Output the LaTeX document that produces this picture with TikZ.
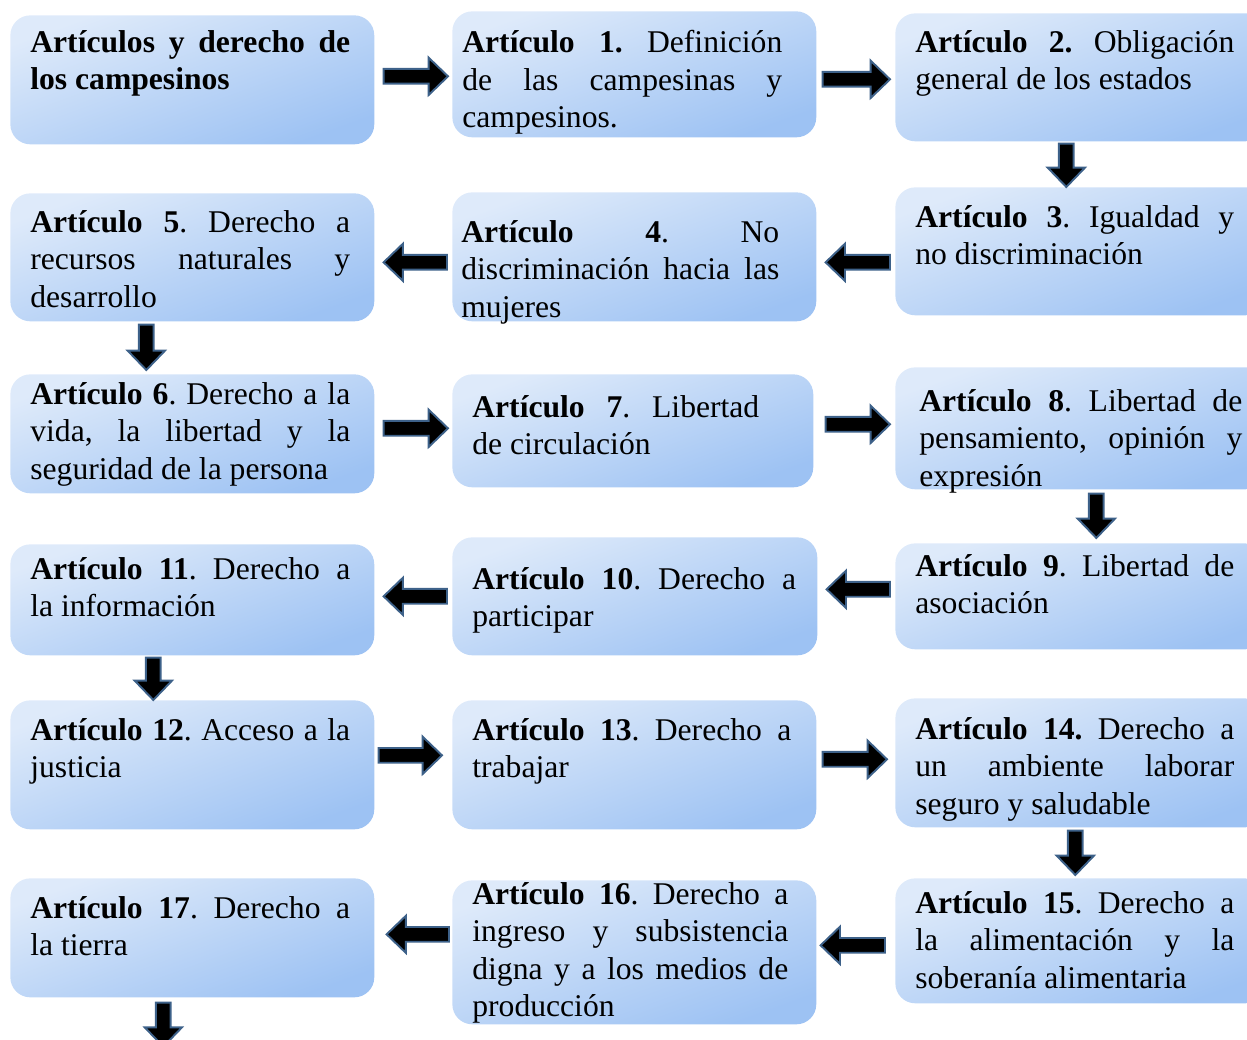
\documentclass[tikz,border=0pt]{standalone}
\usepackage{fontspec}
\setmainfont{Liberation Serif}
\usepackage{tikz}
\usetikzlibrary{calc}
\definecolor{boxlight}{HTML}{DEEAFA}
\definecolor{boxdark}{HTML}{9DC2F3}
\definecolor{arrowblue}{HTML}{3D6189}
\hyphenpenalty=10000
\exhyphenpenalty=10000
\tolerance=10000
\frenchspacing

\begin{document}
\begin{tikzpicture}[
	x=0.02cm, y=-0.02cm
	,box/.style={anchor=north west, inner sep=0, rounded corners=0.4cm, minimum width=7.28cm, top color=boxlight, bottom color=boxdark, shading angle=20}
	,wide/.style={minimum width=7.4cm}
	,txt/.style={anchor=north west, inner sep=0, align=justify, font=\fontsize{18}{21.3}\selectfont}
	,barrow/.style 2 args={draw=arrowblue, fill=black, line width=1.1pt, line join=miter,
		to path={
			($(\tikztostart)!#1!(\tikztotarget)$) coordinate (bs)
			($(\tikztotarget)!#2!(\tikztostart)$) coordinate (bt)
			($(bt)!11pt!(bs)$) coordinate (bh)
			($(bs)!4.2pt!90:(bt)$) -- ($(bh)!4.2pt!-90:(bs)$) -- ($(bh)!10.6pt!-90:(bs)$) -- (bt)
			-- ($(bh)!10.6pt!90:(bs)$) -- ($(bh)!4.2pt!90:(bs)$) -- ($(bs)!4.2pt!-90:(bt)$) -- cycle}}
]
	\path[use as bounding box, clip] (0,0) rectangle (1247,1040);

	% boxes
	\node [box, minimum height=2.58cm] (b0) at (10,15) {};
	\node [box, minimum height=2.52cm] (b1) at (452,11) {};
	\node [box, wide, minimum height=2.56cm] (b2) at (895,13) {};
	\node [box, wide, minimum height=2.56cm] (b3) at (895,187) {};
	\node [box, minimum height=2.58cm] (b4) at (452,192) {};
	\node [box, minimum height=2.56cm] (b5) at (10,193) {};
	\node [box, minimum height=2.38cm] (b6) at (10,374) {};
	\node [box, minimum width=7.22cm, minimum height=2.26cm] (b7) at (452,374) {};
	\node [box, wide, minimum height=2.44cm] (b8) at (895,367) {};
	\node [box, wide, minimum height=2.12cm] (b9) at (895,543) {};
	\node [box, minimum width=7.3cm, minimum height=2.36cm] (b10) at (452,537) {};
	\node [box, minimum height=2.22cm] (b11) at (10,544) {};
	\node [box, minimum height=2.58cm] (b12) at (10,700) {};
	\node [box, minimum height=2.58cm] (b13) at (452,700) {};
	\node [box, wide, minimum height=2.58cm] (b14) at (895,698) {};
	\node [box, wide, minimum height=2.5cm] (b15) at (895,878) {};
	\node [box, minimum height=2.88cm] (b16) at (452,880) {};
	\node [box, minimum height=2.38cm] (b17) at (10,878) {};

	% texts
	\node [txt, text width=6.4cm] (t0) at (30,30) {\textbf{Artículos y derecho de\linebreak los campesinos}};
	\node [txt, text width=6.4cm] (t1) at (462,30) {\textbf{Artículo 1.} Definición\linebreak de las campesinas y\linebreak campesinos.};
	\node [txt, text width=6.38cm] (t2) at (915,30) {\textbf{Artículo 2.} Obligación\linebreak general de los estados};
	\node [txt, text width=6.38cm] (t3) at (915,205) {\textbf{Artículo 3}. Igualdad y\linebreak no discriminación};
	\node [txt, text width=6.36cm] (t4) at (461,220) {\textbf{Artículo 4}. No\linebreak discriminación hacia las\linebreak mujeres};
	\node [txt, text width=6.4cm] (t5) at (30,210) {\textbf{Artículo 5}. Derecho a\linebreak recursos naturales y\linebreak desarrollo};
	\node [txt, text width=6.4cm] (t6) at (30,382) {\textbf{Artículo 6}. Derecho a la\linebreak vida, la libertad y la\linebreak seguridad de la persona};
	\node [txt, text width=5.74cm] (t7) at (472,395) {\textbf{Artículo 7}. Libertad\linebreak de circulación};
	\node [txt, text width=6.46cm] (t8) at (919,389) {\textbf{Artículo 8}. Libertad de\linebreak pensamiento, opinión y\linebreak expresión};
	\node [txt, text width=6.38cm] (t9) at (915,554) {\textbf{Artículo 9}. Libertad de\linebreak asociación};
	\node [txt, text width=6.48cm] (t10) at (472,567) {\textbf{Artículo 10}. Derecho a\linebreak participar};
	\node [txt, text width=6.4cm] (t11) at (30,557) {\textbf{Artículo 11}. Derecho a\linebreak la información};
	\node [txt, text width=6.4cm] (t12) at (30,718) {\textbf{Artículo 12}. Acceso a la\linebreak justicia};
	\node [txt, text width=6.38cm] (t13) at (472,718) {\textbf{Artículo 13}. Derecho a\linebreak trabajar};
	\node [txt, text width=6.38cm] (t14) at (915,717) {\textbf{Artículo 14.} Derecho a\linebreak un ambiente laborar\linebreak seguro y saludable};
	\node [txt, text width=6.38cm] (t15) at (915,891) {\textbf{Artículo 15}. Derecho a\linebreak la alimentación y la\linebreak soberanía alimentaria};
	\node [txt, text width=6.32cm] (t16) at (472,882) {\textbf{Artículo 16}. Derecho a\linebreak ingreso y subsistencia\linebreak digna y a los medios de\linebreak producción};
	\node [txt, text width=6.4cm] (t17) at (30,896) {\textbf{Artículo 17}. Derecho a\linebreak la tierra};

	\coordinate (fin) at ([yshift=-0.98cm]b17.south);

	% arrows
	\draw [barrow={0.18cm}{0.08cm}, transform canvas={yshift=0.07cm}] (b0.east) to (b0.east -| b1.west);
	\draw [barrow={0.12cm}{0.1cm}, transform canvas={yshift=-0.1cm}] (b1.east) to (b1.east -| b2.west);
	\draw [barrow={0.04cm}{0cm}, transform canvas={xshift=-0.28cm}] (b2.south) to (b2.south |- b3.north);
	\draw [barrow={0.1cm}{0.18cm}, transform canvas={yshift=-0.22cm}] (b3.west) to (b3.west -| b4.east);
	\draw [barrow={0.1cm}{0.18cm}, transform canvas={yshift=-0.11cm}] (b4.west) to (b4.west -| b5.east);
	\draw [barrow={0.06cm}{0.08cm}, transform canvas={xshift=-0.92cm}] (b5.south) to (b5.south |- b6.north);
	\draw [barrow={0.18cm}{0.08cm}, transform canvas={yshift=0.11cm}] (b6.east) to (b6.east -| b7.west);
	\draw [barrow={0.24cm}{0.1cm}, transform canvas={yshift=0.13cm}] (b7.east) to (b7.east -| b8.west);
	\draw [barrow={0.08cm}{0.1cm}, transform canvas={xshift=0.32cm}] (b8.south) to (b8.south |- b9.north);
	\draw [barrow={0.1cm}{0.18cm}, transform canvas={yshift=0.14cm}] (b9.west) to (b9.west -| b10.east);
	\draw [barrow={0.1cm}{0.18cm}] (b10.west) to (b10.west -| b11.east);
	\draw [barrow={0.04cm}{0cm}, transform canvas={xshift=-0.78cm}] (b11.south) to (b11.south |- b12.north);
	\draw [barrow={0.08cm}{0.2cm}, transform canvas={yshift=0.19cm}] (b12.east) to (b12.east -| b13.west);
	\draw [barrow={0.12cm}{0.16cm}, transform canvas={yshift=0.11cm}] (b13.east) to (b13.east -| b14.west);
	\draw [barrow={0.06cm}{0.06cm}, transform canvas={xshift=-0.1cm}] (b14.south) to (b14.south |- b15.north);
	\draw [barrow={0.2cm}{0.08cm}, transform canvas={yshift=-0.09cm}] (b15.west) to (b15.west -| b16.east);
	\draw [barrow={0.06cm}{0.24cm}, transform canvas={yshift=0.36cm}] (b16.west) to (b16.west -| b17.east);
	\draw [barrow={0.1cm}{0cm}, transform canvas={xshift=-0.58cm}] (b17.south) to (fin);
\end{tikzpicture}
\end{document}
